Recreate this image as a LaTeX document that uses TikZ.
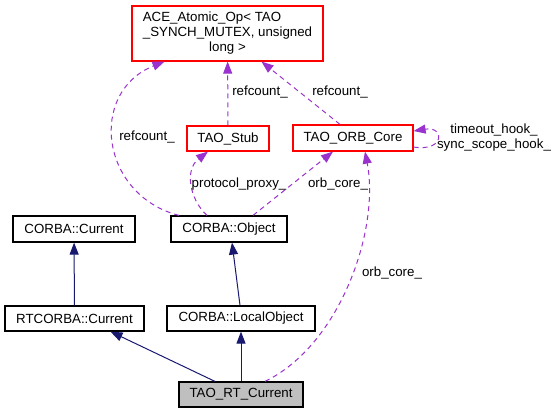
\documentclass[tikz,border=0pt]{standalone}
\usepackage{fontspec}
\setmainfont{Liberation Sans}
\usetikzlibrary{arrows.meta}
\definecolor{midnight}{RGB}{25,25,112}
\definecolor{orchid}{RGB}{154,50,205}
\definecolor{grey75}{RGB}{191,191,191}

\begin{document}
\begin{tikzpicture}[x=1pt, y=-1pt,
  every node/.style={font=\fontsize{13.3}{15}\selectfont, inner sep=0pt},
  classbox/.style={draw=black, line width=1.2pt, minimum height=25pt},
  refbox/.style={classbox, draw=red},
  thisbox/.style={classbox, fill=grey75},
  inherit/.style={draw=midnight, line width=1pt, -{Triangle[length=12pt,width=9pt]}},
  member/.style={draw=orchid, line width=1pt, dash pattern=on 5pt off 4pt, -{Triangle[length=12pt,width=9pt]}}]

  \useasboundingbox (0,0) rectangle (556,413);

  \node[refbox, minimum width=191pt, minimum height=55pt] (ace) at (227.5,33.5)
    {\begin{tabular}{@{}l@{}}ACE\_Atomic\_Op< TAO\\ \_SYNCH\_MUTEX, unsigned\\ \multicolumn{1}{@{}c@{}}{long >}\end{tabular}};
  \node[refbox, minimum width=82pt] (stub) at (228,138.5) {TAO\_Stub};
  \node[refbox, minimum width=120pt, minimum height=26pt] (orb) at (353,138) {TAO\_ORB\_Core};
  \node[classbox, minimum width=122pt, minimum height=26pt] (cur) at (74,229) {CORBA::Current};
  \node[classbox, minimum width=116pt, minimum height=26pt] (obj) at (229,229) {CORBA::Object};
  \node[classbox, minimum width=139pt] (rtcur) at (74.5,318.5) {RTCORBA::Current};
  \node[classbox, minimum width=148pt] (local) at (241,318.5) {CORBA::LocalObject};
  \node[thisbox, minimum width=124pt] (tao) at (241,394.5) {TAO\_RT\_Current};

  \draw[inherit] (rtcur) -- (cur);
  \draw[inherit] ([xshift=-1pt]local.north) -- ([xshift=3pt]obj.south);
  \draw[inherit] ([xshift=-26pt]tao.north) -- ([xshift=36pt]rtcur.south);
  \draw[inherit] (tao) -- (local);

  \draw[member] (stub) -- (ace);
  \draw[member] ([xshift=-13pt]orb.north) -- ([xshift=34pt]ace.south);
  \draw[member] ([xshift=-50pt]obj.north) .. controls (100,195) and (88,92) .. ([xshift=-63pt]ace.south);
  \draw[member] ([xshift=-22pt]obj.north) .. controls (190,200) and (184,170) .. ([xshift=-20pt]stub.south);
  \draw[member] ([xshift=24pt]obj.north) -- ([xshift=-20pt]orb.south);
  \draw[member] ([xshift=24pt]tao.north) .. controls (340,345) and (380,230) .. ([xshift=12pt]orb.south);
  \draw[member] ([yshift=-9pt]orb.east) .. controls (445,152) and (445,126) .. ([yshift=7pt]orb.east);

  \node (refl) at (147,137) {refcount\_};
  \node (refm) at (260,92) {refcount\_};
  \node (refr) at (340,92) {refcount\_};
  \node (proxy) at (239,184) {protocol\_proxy\_};
  \node (orbup) at (338,184) {orb\_core\_};
  \node[align=center] (hooks) at (494,137.5) {timeout\_hook\_\\sync\_scope\_hook\_};
  \node (orblow) at (392,273) {orb\_core\_};

\end{tikzpicture}
\end{document}
